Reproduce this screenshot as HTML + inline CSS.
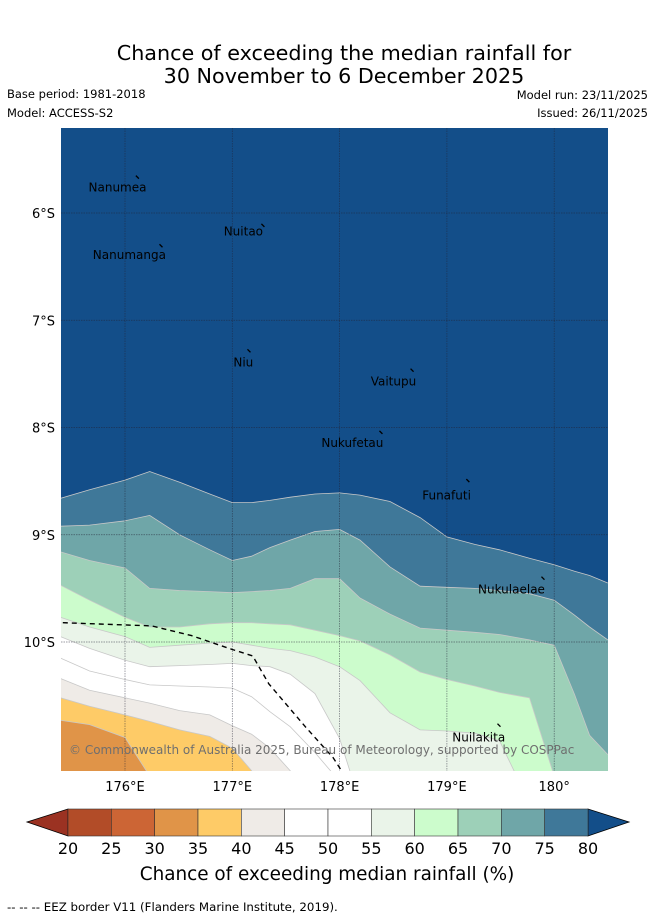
<!DOCTYPE html>
<html><head><meta charset="utf-8">
<style>
html,body{margin:0;padding:0;background:#fff;}
body{width:655px;height:919px;overflow:hidden;font-family:"DejaVu Sans","Liberation Sans",sans-serif;}
svg text{font-family:"DejaVu Sans","Liberation Sans",sans-serif;}
</style></head><body>
<svg id="chart" width="655" height="919" viewBox="0 0 655 919" xmlns="http://www.w3.org/2000/svg">
<text x="344" y="60" font-size="20.7" text-anchor="middle">Chance of exceeding the median rainfall for</text>
<text x="344" y="83" font-size="20.7" text-anchor="middle">30 November to 6 December 2025</text>
<text x="7" y="98" font-size="11.5">Base period: 1981-2018</text>
<text x="7" y="117" font-size="11.5">Model: ACCESS-S2</text>
<text x="648" y="99" font-size="11.5" text-anchor="end">Model run: 23/11/2025</text>
<text x="648" y="117" font-size="11.5" text-anchor="end">Issued: 26/11/2025</text>
<defs><clipPath id="mapclip"><rect x="61" y="128" width="547" height="643"/></clipPath></defs>
<g id="map" clip-path="url(#mapclip)"></g>
<g id="overlay"></g>
<g id="cbar"></g>
<text x="327" y="880" font-size="18.4" text-anchor="middle">Chance of exceeding median rainfall (%)</text>
<text x="7" y="911" font-size="11.8">--  --  -- EEZ border V11 (Flanders Marine Institute, 2019).</text>
</svg>
<script>
// ---- data ----
const lons = [175.40,175.67,176.0,176.23,176.51,176.79,177.0,177.18,177.35,177.54,177.77,178.0,178.19,178.47,178.75,179.0,179.26,179.49,179.77,180.0,180.19,180.33,180.5];
const b80 = [8.66,8.58,8.49,8.41,8.51,8.62,8.70,8.70,8.68,8.65,8.62,8.61,8.63,8.69,8.84,9.02,9.09,9.14,9.22,9.28,9.34,9.38,9.45];
const b75 = [8.92,8.91,8.87,8.82,9.00,9.14,9.24,9.20,9.12,9.05,8.97,8.95,9.05,9.30,9.48,9.49,9.50,9.52,9.55,9.61,9.75,9.86,9.98];
const b70 = [9.16,9.24,9.31,9.50,9.52,9.53,9.54,9.53,9.52,9.50,9.41,9.41,9.59,9.74,9.87,9.89,9.91,9.93,9.98,10.03,10.49,10.87,11.05];
const b65 = [9.47,9.61,9.77,9.86,9.86,9.83,9.82,9.82,9.83,9.84,9.89,9.94,9.99,10.12,10.28,10.35,10.41,10.47,10.52,11.25,11.5,11.5,11.5];
const b60 = [9.77,9.86,9.95,10.05,10.03,10.01,10.00,10.03,10.06,10.08,10.14,10.23,10.36,10.66,10.82,10.83,10.85,10.92,11.5,11.5,11.5,11.5,11.5];
const b55 = [9.95,10.06,10.17,10.23,10.22,10.21,10.20,10.22,10.23,10.30,10.48,10.90,11.5,11.5,11.5,11.5,11.5,11.5,11.5,11.5,11.5,11.5,11.5];
const b50 = [10.15,10.27,10.35,10.40,10.41,10.42,10.43,10.51,10.65,10.79,11.03,11.3,11.5,11.5,11.5,11.5,11.5,11.5,11.5,11.5,11.5,11.5,11.5];
const b45 = [10.34,10.45,10.52,10.57,10.64,10.68,10.78,10.86,10.99,11.2,11.5,11.5,11.5,11.5,11.5,11.5,11.5,11.5,11.5,11.5,11.5,11.5,11.5];
const b40 = [10.52,10.60,10.68,10.74,10.82,10.88,10.99,11.2,11.5,11.5,11.5,11.5,11.5,11.5,11.5,11.5,11.5,11.5,11.5,11.5,11.5,11.5,11.5];
const b35 = [10.73,10.77,10.89,11.25,11.5,11.5,11.5,11.5,11.5,11.5,11.5,11.5,11.5,11.5,11.5,11.5,11.5,11.5,11.5,11.5,11.5,11.5,11.5];
const levels = [20,25,30,35,40,45,50,55,60,65,70,75,80];
const bandColors = ["#9b3222","#b24c28","#cc6535","#e09448","#fecb67","#efebe7","#ffffff","#ffffff","#eaf4e9","#ccfccc","#9dd0b8","#6fa6a8","#3f7899","#134e89"];
const latTicks = [6,7,8,9,10];
const lonTicks = [176,177,178,179,180];
const islandNames = ["Nanumea","Nuitao","Nanumanga","Niu","Vaitupu","Nukufetau","Funafuti","Nukulaelae","Nuilakita"];
const islandLon = [176.12,177.29,176.34,177.16,178.68,178.39,179.20,179.90,179.49];
const islandLat = [5.67,6.12,6.31,7.29,7.47,8.05,8.50,9.41,10.78];
const labelLon = [175.66,176.92,175.70,177.01,178.29,177.83,178.77,179.29,179.05];
const labelLat = [5.80,6.21,6.43,7.43,7.61,8.18,8.67,9.55,10.93];
const eezLon = [175.42,176.25,176.62,177.0,177.19,177.34,177.68,177.94,178.05];
const eezLat = [9.82,9.85,9.94,10.07,10.13,10.39,10.79,11.08,11.25];

// ---- axes ----
const X = lon => 125 + (lon-176)*107.3;
const Y = lat => 213 + (lat-6)*107.25;
const NS="http://www.w3.org/2000/svg";
const map=document.getElementById('map'), ov=document.getElementById('overlay'), cb=document.getElementById('cbar');
function mk(tag,attrs,parent){const e=document.createElementNS(NS,tag);for(const k in attrs)e.setAttribute(k,attrs[k]);parent.appendChild(e);return e;}

let bg=mk('rect',{x:61,y:128,width:547,height:643,fill:bandColors[13]},map);


const bounds=[b80,b75,b70,b65,b60,b55,b50,b45,b40,b35];
bounds.forEach((b,i)=>{
  let pts=lons.map((l,j)=>X(l).toFixed(1)+','+Y(b[j]).toFixed(1));
  let poly='M'+(X(lons[0])-2)+','+Y(b[0]).toFixed(1)+' L'+pts.join(' L')+' L'+(X(lons[lons.length-1])+2)+','+Y(b[b.length-1]).toFixed(1)+' L700,900 L0,900 Z';
  const p=mk('path',{d:poly,fill:bandColors[12-i]},map);
  
  
  const ln=mk('polyline',{points:pts.join(' '),fill:'none',stroke:'#c8c8c8','stroke-width':0.8},map);
  
  
});
// gridlines
latTicks.forEach(t=>{
  const g=mk('line',{x1:61,x2:608,y1:Y(t),y2:Y(t),stroke:'#223',"stroke-width":0.7,"stroke-dasharray":"1.5,1","stroke-opacity":0.6},map);
  
  
  const tx=mk('text',{x:55,y:Y(t)+5,'font-size':13,'text-anchor':'end'},ov);tx.textContent=t+'°S';
  
  
});
lonTicks.forEach(t=>{
  const g=mk('line',{x1:X(t),x2:X(t),y1:128,y2:771,stroke:'#223',"stroke-width":0.7,"stroke-dasharray":"1.5,1","stroke-opacity":0.6},map);
  
  
  const tx=mk('text',{x:X(t),y:791,'font-size':13,'text-anchor':'middle'},ov);tx.textContent=t+(t===180?'°':'°E');
  
  
});
// EEZ
const ez=mk('polyline',{points:eezLon.map((l,j)=>X(l).toFixed(1)+','+Y(eezLat[j]).toFixed(1)).join(' '),fill:'none',stroke:'#000','stroke-width':1.4,'stroke-dasharray':'5,4'},map);


// islands
islandNames.forEach((n,i)=>{
  const x=X(islandLon[i]), y=Y(islandLat[i]);
  const m=mk('path',{d:`M${x-2},${y-2} l3,3`,stroke:'#000','stroke-width':1.3,fill:'none'},map);
  
  
  const t=mk('text',{x:X(labelLon[i]),y:Y(labelLat[i]),'font-size':12,'text-anchor':'start',fill:'#000'},map);t.textContent=n;
  
  
});
const cp=mk('text',{x:69,y:754,'font-size':12,fill:'#6f6f6f'},map);cp.textContent='© Commonwealth of Australia 2025, Bureau of Meteorology, supported by COSPPac';


// colorbar
const CX=v=>68+(v-20)*8.6667;
const lt=mk('polygon',{points:`27,822 ${CX(20)},809 ${CX(20)},836`,fill:bandColors[0],stroke:'#000','stroke-width':0.8},cb);


const rt=mk('polygon',{points:`629,822 ${CX(80)},809 ${CX(80)},836`,fill:bandColors[13],stroke:'#000','stroke-width':0.8},cb);


for(let i=0;i<levels.length-1;i++){
  const r=mk('rect',{x:CX(levels[i]),y:809,width:CX(levels[i+1])-CX(levels[i]),height:27,fill:bandColors[i+1],stroke:'#333','stroke-width':0.6},cb);
  
  
}
levels.forEach(v=>{
  const t=mk('text',{x:CX(v),y:854,'font-size':16,'text-anchor':'middle'},cb);t.textContent=v;
  
  
});
</script>
</body></html>
